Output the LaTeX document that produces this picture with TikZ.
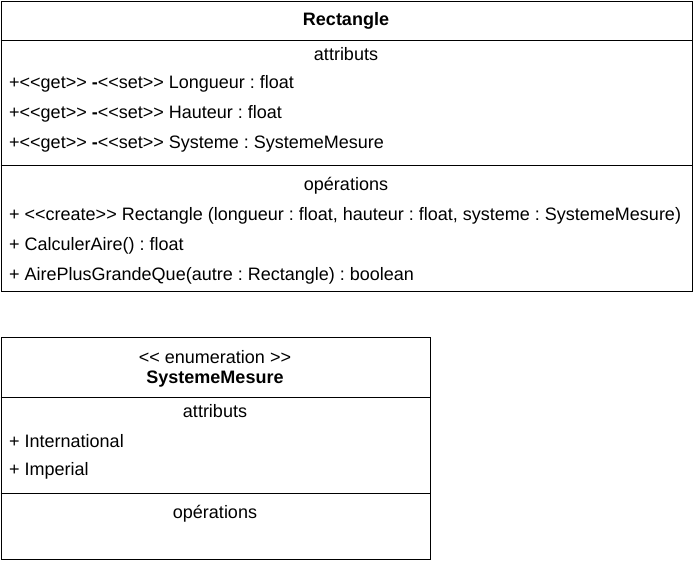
\documentclass[tikz,border=0pt]{standalone}
\usepackage{fontspec}
\setmainfont{Liberation Sans}
\frenchspacing
\begin{document}
\begin{tikzpicture}[x=1pt,y=-1pt,
  frame/.style={draw=black,line width=1pt},
  sep/.style={draw=black,line width=1pt},
  txt/.style={inner sep=0pt,font=\fontsize{18}{21}\selectfont},
  lefttxt/.style={txt,anchor=west},
  head/.style={txt,anchor=center}]
\useasboundingbox (0,0) rectangle (693,560);

% class Rectangle
\node[frame,minimum width=691pt,minimum height=290pt,anchor=north west,inner sep=0pt] (rect) at (0.6,0.6) {};
\draw[sep] (0.6,40) -- (692.4,40);
\draw[sep] (0.6,165.5) -- (692.4,165.5);
\node[head,font=\fontsize{18}{21}\selectfont\bfseries] (rtitle) at (346,21) {Rectangle};
\node[head] (rattr) at (346,54) {attributs};
\node[lefttxt] (ra1) at (9,84) {+<{}<get>{}> \textbf{-}<{}<set>{}> Longueur : float};
\node[lefttxt] (ra2) at (9,114) {+<{}<get>{}> \textbf{-}<{}<set>{}> Hauteur : float};
\node[lefttxt] (ra3) at (9,144) {+<{}<get>{}> \textbf{-}<{}<set>{}> Systeme : SystemeMesure};
\node[head] (rops) at (346,186) {opérations};
\node[lefttxt] (ro1) at (9,216) {+ <{}<create>{}> Rectangle (longueur : float, hauteur : float, systeme : SystemeMesure)};
\node[lefttxt] (ro2) at (9,246) {+ CalculerAire() : float};
\node[lefttxt] (ro3) at (9,276) {+ AirePlusGrandeQue(autre : Rectangle) : boolean};

% enumeration SystemeMesure
\node[frame,minimum width=429pt,minimum height=222pt,anchor=north west,inner sep=0pt] (enum) at (0.6,336.6) {};
\draw[sep] (0.6,397) -- (429.6,397);
\draw[sep] (0.6,493) -- (429.6,493);
\node[head] (estereo) at (215,357) {<{}< enumeration >{}>};
\node[head,font=\fontsize{18}{21}\selectfont\bfseries] (etitle) at (215,379) {SystemeMesure};
\node[head] (eattr) at (215,411) {attributs};
\node[lefttxt] (ea1) at (9,441) {+ International};
\node[lefttxt] (ea2) at (9,471) {+ Imperial};
\node[head] (eops) at (215,514) {opérations};
\end{tikzpicture}
\end{document}
